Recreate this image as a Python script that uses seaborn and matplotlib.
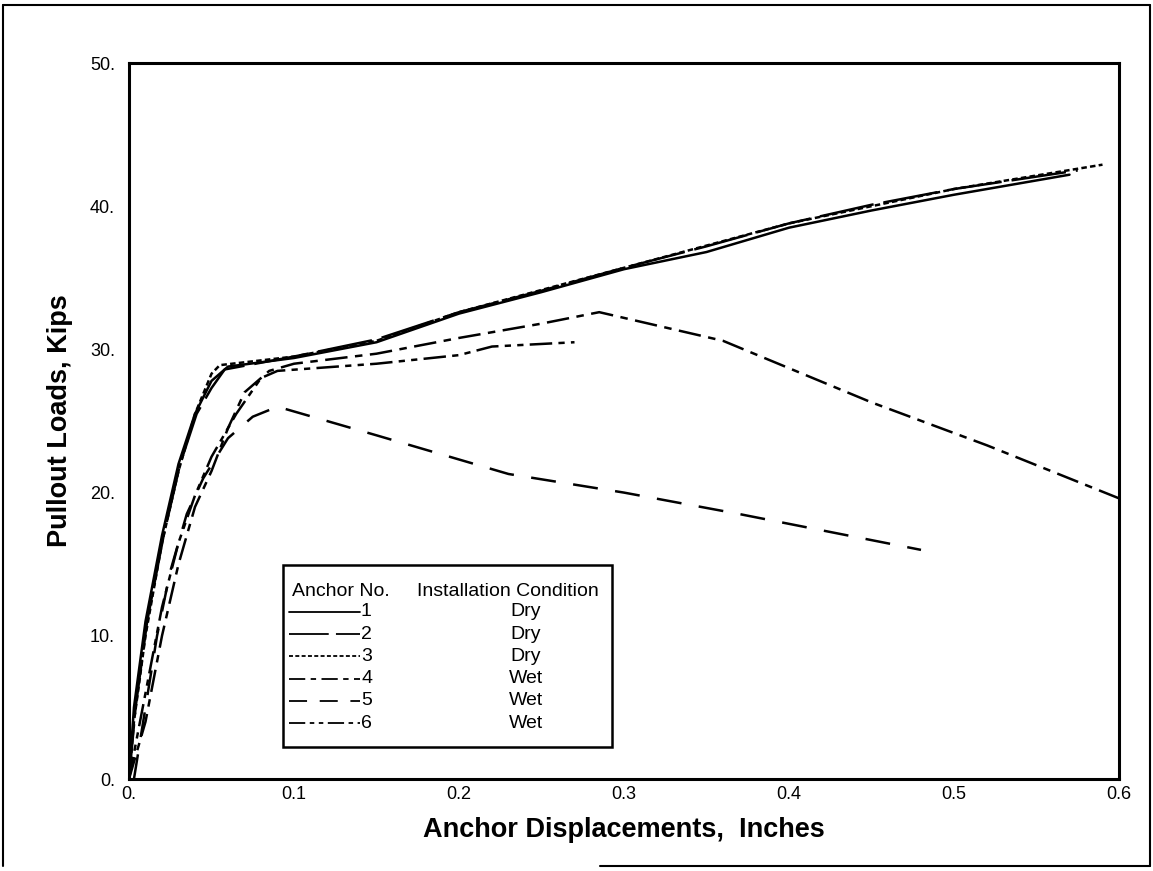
import matplotlib
matplotlib.use("Agg")
import matplotlib.pyplot as plt
import seaborn as sns
import pandas as pd
from matplotlib.lines import Line2D

# Anchor pullout test data
a1_x = [0.0, 0.003, 0.01, 0.02, 0.03, 0.04, 0.05, 0.06, 0.1, 0.15, 0.2, 0.25, 0.3, 0.35, 0.4, 0.45, 0.5, 0.57]
a1_y = [0.0, 5.0, 11.0, 17.0, 22.0, 25.5, 27.8, 28.8, 29.4, 30.5, 32.5, 34.0, 35.6, 36.8, 38.5, 39.7, 40.8, 42.2]

a2_x = [0.0, 0.004, 0.011, 0.021, 0.031, 0.041, 0.05, 0.058, 0.1, 0.15, 0.2, 0.25, 0.3, 0.35, 0.4, 0.45, 0.5, 0.575]
a2_y = [0.0, 5.0, 11.0, 17.0, 22.0, 25.5, 27.3, 28.6, 29.5, 30.7, 32.6, 34.1, 35.7, 37.2, 38.8, 40.1, 41.2, 42.5]

a3_x = [0.0, 0.003, 0.01, 0.02, 0.03, 0.04, 0.05, 0.055, 0.1, 0.15, 0.2, 0.3, 0.4, 0.5, 0.59]
a3_y = [0.0, 4.0, 10.0, 16.5, 21.5, 25.5, 28.3, 28.9, 29.5, 30.6, 32.6, 35.7, 38.8, 41.2, 42.9]

a4_x = [0.0, 0.01, 0.02, 0.03, 0.04, 0.05, 0.06, 0.07, 0.085, 0.1, 0.15, 0.2, 0.25, 0.285, 0.36, 0.45, 0.52, 0.6]
a4_y = [0.0, 4.0, 10.0, 15.0, 19.0, 21.5, 24.5, 27.0, 28.5, 29.0, 29.7, 30.8, 31.8, 32.6, 30.6, 26.3, 23.3, 19.6]

a5_x = [0.003, 0.01, 0.017, 0.025, 0.035, 0.045, 0.06, 0.075, 0.09, 0.15, 0.23, 0.3, 0.37, 0.48]
a5_y = [0.0, 5.0, 10.0, 14.5, 18.5, 21.0, 23.8, 25.3, 26.0, 24.0, 21.3, 20.0, 18.5, 16.0]

a6_x = [0.0, 0.01, 0.02, 0.03, 0.04, 0.05, 0.065, 0.08, 0.09, 0.15, 0.2, 0.22, 0.27]
a6_y = [0.0, 6.0, 12.0, 16.5, 19.8, 22.5, 25.5, 28.0, 28.5, 29.0, 29.6, 30.2, 30.5]

anchors = ["1", "2", "3", "4", "5", "6"]
conditions = ["Dry", "Dry", "Dry", "Wet", "Wet", "Wet"]
xs = [a1_x, a2_x, a3_x, a4_x, a5_x, a6_x]
ys = [a1_y, a2_y, a3_y, a4_y, a5_y, a6_y]

x_ticks = [0.0, 0.1, 0.2, 0.3, 0.4, 0.5, 0.6]
x_ticklabels = ["0.", "0.1", "0.2", "0.3", "0.4", "0.5", "0.6"]
y_ticks = [0, 10, 20, 30, 40, 50]
y_ticklabels = ["0.", "10.", "20.", "30.", "40.", "50."]

styles = ["-", (0, (22, 4)), (0, (2.2, 1.3)), (0, (9, 3, 3, 3)), (0, (10, 7)), (0, (9, 2.5, 2.5, 2.5, 2.5, 2.5))]

sns.set_style("white")
plt.rcParams["font.family"] = ["Liberation Sans", "DejaVu Sans"]
plt.rcParams["text.color"] = "black"
plt.rcParams["axes.labelcolor"] = "black"
plt.rcParams["xtick.color"] = "black"
plt.rcParams["ytick.color"] = "black"

W, H = 1153, 871
fig = plt.figure(figsize=(W / 100, H / 100), dpi=100)
ax = fig.add_axes([129 / W, 1 - 779 / H, (1119 - 129) / W, (779 - 63) / H])

for name, x, y, ls in zip(anchors, xs, ys, styles):
    df = pd.DataFrame({"disp": x, "load": y})
    sns.lineplot(data=df, x="disp", y="load", ax=ax, color="black", lw=1.8,
                 ls=ls, estimator=None, sort=False)

ax.set_xlim(0, 0.6)
ax.set_ylim(0, 50)
ax.set_xticks(x_ticks)
ax.set_xticklabels(x_ticklabels, fontsize=13)
ax.set_yticks(y_ticks)
ax.set_yticklabels(y_ticklabels, fontsize=13)
ax.tick_params(axis="x", length=0, pad=5)
ax.tick_params(axis="y", length=0, pad=10)
for s in ax.spines.values():
    s.set_color("black")
    s.set_linewidth(2.2)

ax.set_xlabel("Anchor Displacements,  Inches", fontsize=19.5, fontweight="bold", labelpad=10)
ax.set_ylabel("Pullout Loads, Kips", fontsize=19.5, fontweight="bold", labelpad=12)

# hand-drawn style legend box
def fx(px):
    return px / W

def fy(py):
    return 1 - py / H

box = plt.Rectangle((fx(283), fy(747)), fx(612) - fx(283), fy(565) - fy(747),
                    transform=fig.transFigure, fill=True, facecolor="white",
                    edgecolor="black", lw=1.8, zorder=5)
fig.add_artist(box)
fig.text(fx(292), fy(591), "Anchor No.", fontsize=14, va="center", ha="left", zorder=6)
fig.text(fx(508), fy(591), "Installation Condition", fontsize=14, va="center", ha="center", zorder=6)
for i, (name, cond, ls) in enumerate(zip(anchors, conditions, styles)):
    ry = 612 + i * 22.2
    fig.add_artist(Line2D([fx(289), fx(360)], [fy(ry), fy(ry)], transform=fig.transFigure,
                          color="black", lw=1.3, ls=ls, zorder=6))
    fig.text(fx(361), fy(ry), name, fontsize=14, va="center", ha="left", zorder=6)
    fig.text(fx(526), fy(ry), cond, fontsize=14, va="center", ha="center", zorder=6)

# outer frame of the scanned page
for seg in [([3, 3], [5, 866]), ([3, 1150], [5, 5]), ([1150, 1150], [5, 866]), ([600, 1150], [866, 866])]:
    fig.add_artist(Line2D([fx(v) for v in seg[0]], [fy(v) for v in seg[1]],
                          transform=fig.transFigure, color="black", lw=1.5))

fig.savefig("out.png", dpi=100)
